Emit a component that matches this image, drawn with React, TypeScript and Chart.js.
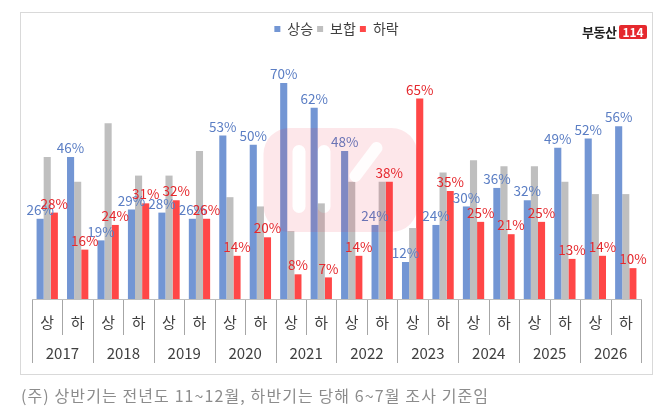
import React, { useEffect, useRef } from "react";
import { Chart, registerables } from "chart.js";

Chart.register(...registerables);

const halves = ["상", "하", "상", "하", "상", "하", "상", "하", "상", "하", "상", "하", "상", "하", "상", "하", "상", "하", "상", "하"];
const years = ["2017", "2018", "2019", "2020", "2021", "2022", "2023", "2024", "2025", "2026"];
const rise = [26, 46, 19, 29, 28, 26, 53, 50, 70, 62, 48, 24, 12, 24, 30, 36, 32, 49, 52, 56];
const flat = [46, 38, 57, 40, 40, 48, 33, 30, 22, 31, 38, 38, 23, 41, 45, 43, 43, 38, 34, 34];
const fall = [28, 16, 24, 31, 32, 26, 14, 20, 8, 7, 14, 38, 65, 35, 25, 21, 25, 13, 14, 10];

const FONT = '"Noto Sans CJK KR", "Noto Sans", sans-serif';

// percent labels above the blue and red bars
const barLabels = {
  id: "barLabels",
  afterDatasetsDraw(chart: Chart) {
    const ctx = chart.ctx;
    ctx.save();
    ctx.font = `13.5px ${FONT}`;
    ctx.textAlign = "center";
    ctx.textBaseline = "middle";
    [0, 2].forEach((di) => {
      const meta = chart.getDatasetMeta(di);
      const data = chart.data.datasets[di].data as number[];
      ctx.fillStyle = di === 0 ? "#5b7ec4" : "#e5282d";
      meta.data.forEach((el: any, i) => {
        ctx.fillText(data[i] + "%", el.x, el.y - 9);
      });
    });
    ctx.restore();
  },
};

// separators under the baseline: short ones between halves, long ones between years
const axisSeparators = {
  id: "axisSeparators",
  afterDraw(chart: Chart) {
    const x = chart.scales.x;
    const x2 = chart.scales.x2;
    const ctx = chart.ctx;
    const n = halves.length;
    const step = x.getPixelForValue(1) - x.getPixelForValue(0);
    ctx.save();
    ctx.strokeStyle = "#a6a6a6";
    ctx.lineWidth = 1;
    for (let i = 0; i <= n; i++) {
      const px = Math.round(x.getPixelForValue(0) - step / 2 + i * step) + 0.5;
      const bottom = i % 2 === 0 ? x2.bottom : x.bottom + 3;
      ctx.beginPath();
      ctx.moveTo(px, x.top + 1);
      ctx.lineTo(px, bottom);
      ctx.stroke();
    }
    ctx.restore();
  },
};

// faint "114" watermark in the middle
const watermark = {
  id: "watermark",
  afterDraw(chart: Chart) {
    const ctx = chart.ctx;
    const cx = (chart.chartArea.left + chart.chartArea.right) / 2;
    const x0 = cx - 73;
    const y0 = 128;
    const w = 154;
    const h = 104;
    ctx.save();
    ctx.beginPath();
    ctx.roundRect(x0, y0, w, h, 26);
    ctx.roundRect(x0 + 29, y0 + 17, 13, 68, 6.5);
    ctx.roundRect(x0 + 54, y0 + 17, 13, 68, 6.5);
    ctx.fillStyle = "rgba(240, 40, 60, 0.11)";
    ctx.fill("evenodd");
    ctx.strokeStyle = "rgba(255,255,255,0.9)";
    ctx.lineWidth = 12;
    ctx.lineCap = "round";
    ctx.beginPath();
    ctx.moveTo(x0 + 113, y0 + 20);
    ctx.lineTo(x0 + 92, y0 + 48);
    ctx.stroke();
    ctx.restore();
  },
};

const App: React.FC = () => {
  const chartRef = useRef<HTMLCanvasElement | null>(null);

  useEffect(() => {
    document.body.style.margin = "0";
    if (!chartRef.current) return;
    const ctx = chartRef.current.getContext("2d");
    if (!ctx) return;

    const chart = new Chart(ctx, {
      type: "bar",
      data: {
        labels: halves,
        datasets: [
          { label: "상승", data: rise, backgroundColor: "#7396d4" },
          { label: "보합", data: flat, backgroundColor: "#bfbfbf" },
          { label: "하락", data: fall, backgroundColor: "#ff4747" },
        ],
      },
      options: {
        responsive: false,
        animation: false,
        layout: { padding: { left: 32, right: 29, top: 18, bottom: 45 } },
        datasets: {
          bar: { categoryPercentage: 0.7, barPercentage: 1.0, borderWidth: 0 },
        },
        plugins: {
          legend: {
            position: "top",
            labels: {
              boxWidth: 6,
              boxHeight: 6,
              padding: 4,
              color: "#404040",
              font: { family: FONT, size: 14 },
            },
          },
          tooltip: { enabled: false },
        },
        scales: {
          y: { display: false, min: 0, max: 82 },
          x: {
            weight: 0,
            border: { display: true, color: "#bfbfbf", width: 1 },
            grid: { display: false, drawTicks: false },
            afterFit: (scale: any) => {
              scale.height = 33;
            },
            ticks: {
              padding: 14,
              color: "#404040",
              font: { family: FONT, size: 15 },
              maxRotation: 0,
              autoSkip: false,
            },
          },
          x2: {
            type: "category",
            position: "bottom",
            weight: 1,
            labels: years,
            offset: true,
            border: { display: false },
            grid: { display: false, drawTicks: false },
            afterFit: (scale: any) => {
              scale.height = 31;
            },
            ticks: {
              padding: 12,
              color: "#404040",
              font: { family: FONT, size: 15 },
              maxRotation: 0,
              autoSkip: false,
            },
          },
        },
      },
      plugins: [barLabels, axisSeparators, watermark],
    });

    return () => {
      chart.destroy();
    };
  }, []);

  return (
    <div style={{ position: "relative", width: 670, height: 408, background: "#fff", overflow: "hidden" }}>
      <div
        style={{
          position: "absolute",
          left: 20,
          top: 12,
          width: 631,
          height: 361,
          border: "1.5px solid #d9d9d9",
        }}
      />
      <canvas ref={chartRef} width={670} height={408} style={{ position: "absolute", left: 0, top: 0 }} />
      <div
        style={{
          position: "absolute",
          left: 582,
          top: 22,
          display: "flex",
          alignItems: "center",
          fontFamily: FONT,
          fontWeight: 700,
        }}
      >
        <span style={{ fontSize: 13, color: "#222", letterSpacing: -0.5 }}>부동산</span>
        <span
          style={{
            marginLeft: 3,
            fontSize: 12,
            lineHeight: "14px",
            color: "#fff",
            background: "#e5282d",
            borderRadius: 2,
            padding: "0 3px",
          }}
        >
          114
        </span>
      </div>
      <div
        style={{
          position: "absolute",
          left: 21,
          top: 384,
          fontFamily: FONT,
          fontSize: 16,
          letterSpacing: 1.1,
          lineHeight: "22px",
          color: "#8c8c8c",
          whiteSpace: "nowrap",
        }}
      >
        (주) 상반기는 전년도 11~12월, 하반기는 당해 6~7월 조사 기준임
      </div>
    </div>
  );
};

export default App;
